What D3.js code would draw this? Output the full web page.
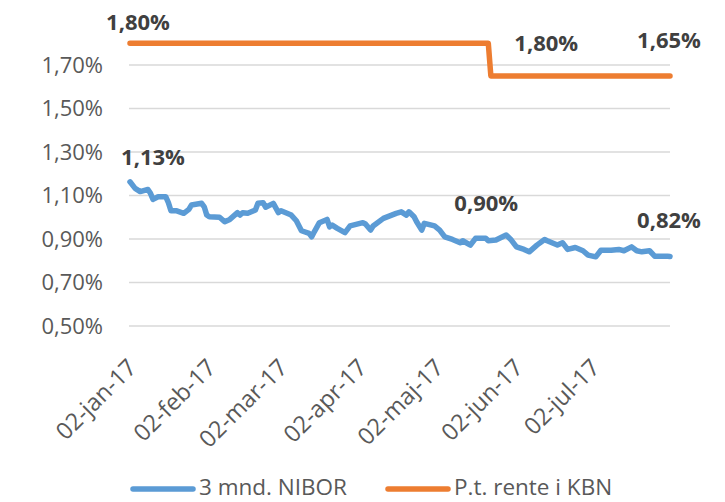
<!DOCTYPE html>
<html>
<head>
<meta charset="utf-8">
<script src="https://cdn.jsdelivr.net/npm/d3@7"></script>
<style>
    body { margin: 0; background: #fff; }
    text { font-family: "Open Sans", sans-serif; }
</style>
</head>
<body>
<div id="chart"></div>
<script>
// 3 mnd. NIBOR
const niborDates = ["2017-01-02","2017-01-04","2017-01-06","2017-01-09","2017-01-10","2017-01-11","2017-01-13","2017-01-16","2017-01-17","2017-01-18",
    "2017-01-20","2017-01-23","2017-01-25","2017-01-26","2017-01-30","2017-01-31","2017-02-01","2017-02-02","2017-02-06","2017-02-08",
    "2017-02-10","2017-02-13","2017-02-14","2017-02-15","2017-02-17","2017-02-20","2017-02-21","2017-02-23","2017-02-24","2017-02-27",
    "2017-03-01","2017-03-02","2017-03-06","2017-03-08","2017-03-10","2017-03-13","2017-03-14","2017-03-15","2017-03-17","2017-03-20",
    "2017-03-21","2017-03-22","2017-03-24","2017-03-27","2017-03-29","2017-04-03","2017-04-04","2017-04-06","2017-04-07","2017-04-11",
    "2017-04-16","2017-04-18","2017-04-20","2017-04-21","2017-04-23","2017-04-24","2017-04-26","2017-04-27","2017-05-01","2017-05-03",
    "2017-05-05","2017-05-08","2017-05-11","2017-05-12","2017-05-15","2017-05-17","2017-05-21","2017-05-22","2017-05-25","2017-05-29",
    "2017-05-31","2017-06-02","2017-06-05","2017-06-07","2017-06-10","2017-06-13","2017-06-14","2017-06-18","2017-06-20","2017-06-22",
    "2017-06-25","2017-06-28","2017-06-30","2017-07-03","2017-07-05","2017-07-09","2017-07-12","2017-07-14","2017-07-17","2017-07-19",
    "2017-07-21","2017-07-24","2017-07-26","2017-07-31","2017-08-01"];
const niborValues = [1.163,1.133,1.118,1.128,1.110,1.082,1.094,1.094,1.067,1.030,
    1.030,1.018,1.036,1.056,1.064,1.048,1.010,1.002,1.000,0.979,
    0.990,1.021,1.010,1.021,1.018,1.033,1.064,1.067,1.046,1.064,
    1.021,1.030,1.010,0.984,0.938,0.926,0.910,0.933,0.975,0.990,
    0.956,0.964,0.949,0.929,0.960,0.975,0.969,0.941,0.960,0.995,
    1.018,1.025,1.010,1.025,1.002,0.979,0.941,0.972,0.960,0.941,
    0.910,0.898,0.883,0.892,0.872,0.903,0.903,0.892,0.895,0.918,
    0.895,0.864,0.852,0.841,0.872,0.898,0.892,0.872,0.883,0.852,
    0.861,0.846,0.826,0.818,0.848,0.848,0.852,0.846,0.864,0.846,
    0.841,0.846,0.821,0.821,0.820];

// P.t. rente i KBN
const kbnDates = ["2017-01-02","2017-05-22","2017-05-23","2017-08-01"];
const kbnValues = [1.80, 1.80, 1.65, 1.65];

const yTicks = [0.5, 0.7, 0.9, 1.1, 1.3, 1.5, 1.7];
const xTickDates = ["2017-01-02","2017-02-02","2017-03-02","2017-04-02","2017-05-02","2017-06-02","2017-07-02"];
const monthNames = ["jan","feb","mar","apr","maj","jun","jul","aug","sep","okt","nov","dec"];

const seriesNames = ["3 mnd. NIBOR", "P.t. rente i KBN"];

// data labels: text, anchored to a point of a series
const labelTexts  = ["1,80%", "1,80%", "1,65%", "1,13%", "0,90%", "0,82%"];
const labelDates  = ["2017-01-02","2017-05-22","2017-08-01","2017-01-02","2017-05-22","2017-08-01"];
const labelValues = [1.80, 1.80, 1.65, 1.163, 0.892, 0.82];

const parse = d3.timeParse("%Y-%m-%d");

const width = 725, height = 502;
const colors = ["#5B9BD5", "#ED7D31"];

const svg = d3.select("#chart").append("svg")
    .attr("width", width)
    .attr("height", height);

const x = d3.scaleTime()
    .domain([parse("2017-01-02"), parse("2017-08-01")])
    .range([130, 670]);

const y = d3.scaleLinear()
    .domain([0.5, 1.7])
    .range([326, 65]);

const fmt = v => d3.format(".2f")(v).replace(".", ",") + "%";

// gridlines
svg.append("g")
    .selectAll("line")
    .data(yTicks)
    .join("line")
    .attr("x1", x.range()[0] - 1)
    .attr("x2", x.range()[1])
    .attr("y1", d => y(d))
    .attr("y2", d => y(d))
    .attr("stroke", "#D9D9D9")
    .attr("stroke-width", 1.3);

// y labels
svg.append("g")
    .selectAll("text")
    .data(yTicks)
    .join("text")
    .attr("x", 103)
    .attr("y", d => y(d))
    .attr("dy", "0.35em")
    .attr("text-anchor", "end")
    .attr("font-size", 22)
    .attr("fill", "#595959")
    .text(fmt);

// x labels, rotated
svg.append("g")
    .selectAll("text")
    .data(xTickDates)
    .join("text")
    .attr("transform", d => "translate(" + (x(parse(d)) + 8) + ",369) rotate(-45)")
    .attr("text-anchor", "end")
    .attr("font-size", 23.5)
    .attr("fill", "#595959")
    .text(d => {
        const t = parse(d);
        return d3.timeFormat("%d")(t) + "-" + monthNames[t.getMonth()] + "-" + d3.timeFormat("%y")(t);
    });

const line = d3.line()
    .x(d => x(d[0]))
    .y(d => y(d[1]));

const series = [
    niborDates.map((d, i) => [parse(d), niborValues[i]]),
    kbnDates.map((d, i) => [parse(d), kbnValues[i]])
];

svg.append("g")
    .selectAll("path")
    .data(series)
    .join("path")
    .attr("d", line)
    .attr("fill", "none")
    .attr("stroke", (d, i) => colors[i])
    .attr("stroke-width", 5.5)
    .attr("stroke-linejoin", "round")
    .attr("stroke-linecap", "round");

// data labels
const labelOffsets = [[8, -13], [58, 8], [-1, -28], [23, -17], [-2, -30], [-1, -28]];
svg.append("g")
    .selectAll("text")
    .data(labelTexts)
    .join("text")
    .attr("x", (d, i) => x(parse(labelDates[i])) + labelOffsets[i][0])
    .attr("y", (d, i) => y(labelValues[i]) + labelOffsets[i][1])
    .attr("text-anchor", "middle")
    .attr("font-size", 22)
    .attr("font-weight", "bold")
    .attr("fill", "#404040")
    .text(d => d);

// legend
const legendX = [133, 388];
const legend = svg.append("g")
    .selectAll("g")
    .data(seriesNames)
    .join("g")
    .attr("transform", (d, i) => "translate(" + legendX[i] + ",489)");

legend.append("line")
    .attr("x1", 0)
    .attr("x2", 60)
    .attr("stroke", (d, i) => colors[i])
    .attr("stroke-width", 5.5)
    .attr("stroke-linecap", "round");

legend.append("text")
    .attr("x", 66)
    .attr("y", 6)
    .attr("font-size", 22.5)
    .attr("fill", "#595959")
    .text(d => d);
</script>
</body>
</html>
